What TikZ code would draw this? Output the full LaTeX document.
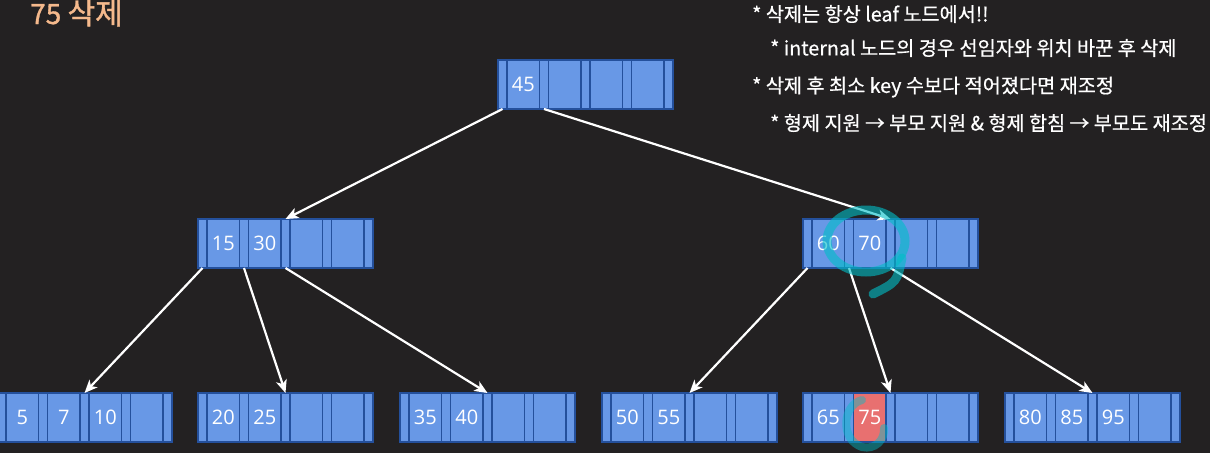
\documentclass[tikz,border=0pt]{standalone}
\usepackage{fontspec}
\setmainfont{Open Sans}
\newfontfamily\kr{Noto Sans CJK KR}
\newfontfamily\krm{Noto Sans CJK KR}[FakeBold=0.6]
\newfontfamily\krt{Noto Sans CJK KR}[FakeBold=1.2]
\usetikzlibrary{arrows.meta}
\definecolor{bg}{RGB}{35,33,34}
\definecolor{cellfill}{RGB}{104,152,230}
\definecolor{cellline}{RGB}{36,80,156}
\definecolor{titlec}{RGB}{245,185,140}
\definecolor{annot}{RGB}{0,190,200}
\definecolor{hl}{RGB}{232,112,112}
\tikzset{
 cell/.style={draw=cellline, fill=cellfill, line width=1.3pt, anchor=north west,
   minimum height=49pt, inner sep=0pt, outer sep=0pt},
 ptrcell/.style={cell, minimum width=9pt},
 keycell/.style={cell, minimum width=32.5pt, font=\fontsize{20}{20}\selectfont, text=white, text depth=-3pt},
 edge/.style={draw=white, line width=2.2pt, -{Stealth[length=13pt,width=11pt,inset=3.5pt]}},
 note/.style={anchor=west, text=white, font=\krm\fontsize{19.7}{19.7}\selectfont, inner sep=0pt},
 mark9/.style={draw=annot, opacity=.6, line width=9pt, line cap=round},
}
% name, x, y, k1, k2, k3, k4, extra style of k2
\newcommand{\btnode}[8]{%
 \foreach \i in {0,...,4}{\node[ptrcell] (#1-p\i) at ({#2+\i*41.5},#3) {};}
 \node[keycell] (#1-k1) at ({#2+9},#3) {#4};
 \node[keycell,#8] (#1-k2) at ({#2+50.5},#3) {#5};
 \node[keycell] (#1-k3) at ({#2+92},#3) {#6};
 \node[keycell] (#1-k4) at ({#2+133.5},#3) {#7};
}
\begin{document}
\begin{tikzpicture}[x=1pt,y=-1pt]
\fill[bg] (0,0) rectangle (1210,453);
\useasboundingbox (0,0) rectangle (1210,453);

\node[anchor=base west, inner sep=0pt, text=titlec, font=\krt\fontsize{28}{28}\selectfont] (title) at (30,24) {75 {\fontsize{30}{30}\selectfont 삭제}};

\node[note] (n1) at (752,14) {* 삭제는 항상 leaf 노드에서!!};
\node[note] (n2) at (770,48) {* internal 노드의 경우 선임자와 위치 바꾼 후 삭제};
\node[note] (n3) at (752,87) {* 삭제 후 최소 key 수보다 적어졌다면 재조정};
\node[note] (n4) at (770,123) {* 형제 지원 → 부모 지원 \& 형제 합침 → 부모도 재조정};

\btnode{root}{498}{60}{45}{}{}{}{}
\btnode{in1}{198}{219}{15}{30}{}{}{}
\btnode{in2}{803}{219}{60}{70}{}{}{}
\btnode{lf1}{-3}{393}{5}{7}{10}{}{}
\btnode{lf2}{198}{393}{20}{25}{}{}{}
\btnode{lf3}{400}{393}{35}{40}{}{}{}
\btnode{lf4}{602}{393}{50}{55}{}{}{}
\btnode{lf5}{803}{393}{65}{75}{}{}{fill=hl}
\btnode{lf6}{1005}{393}{80}{85}{95}{}{}

\draw[edge] (root-p0.south) -- (in1-p2.north);
\draw[edge] (root-p1.south) -- (in2-p2.north);
\draw[edge] (in1-p0.south) -- (lf1-p2.north);
\draw[edge] (in1-p1.south) -- (lf2-p2.north);
\draw[edge] (in1-p2.south) -- (lf3-p2.north);
\draw[edge] (in2-p0.south) -- (lf4-p2.north);
\draw[edge] (in2-p1.south) -- (lf5-p2.north);
\draw[edge] (in2-p2.south) -- (lf6-p2.north);

% hand-drawn marks
\draw[mark9] (866,241) ellipse [x radius=39pt, y radius=31pt];
\draw[mark9] (902,258) .. controls (897,282) .. (873,294);
\draw[draw=annot, opacity=.45, line width=8pt, line cap=round]
  (862,400) .. controls (842,405) and (840,440) .. (862,447) .. controls (875,450) and (885,440) .. (884,428);
\end{tikzpicture}
\end{document}
